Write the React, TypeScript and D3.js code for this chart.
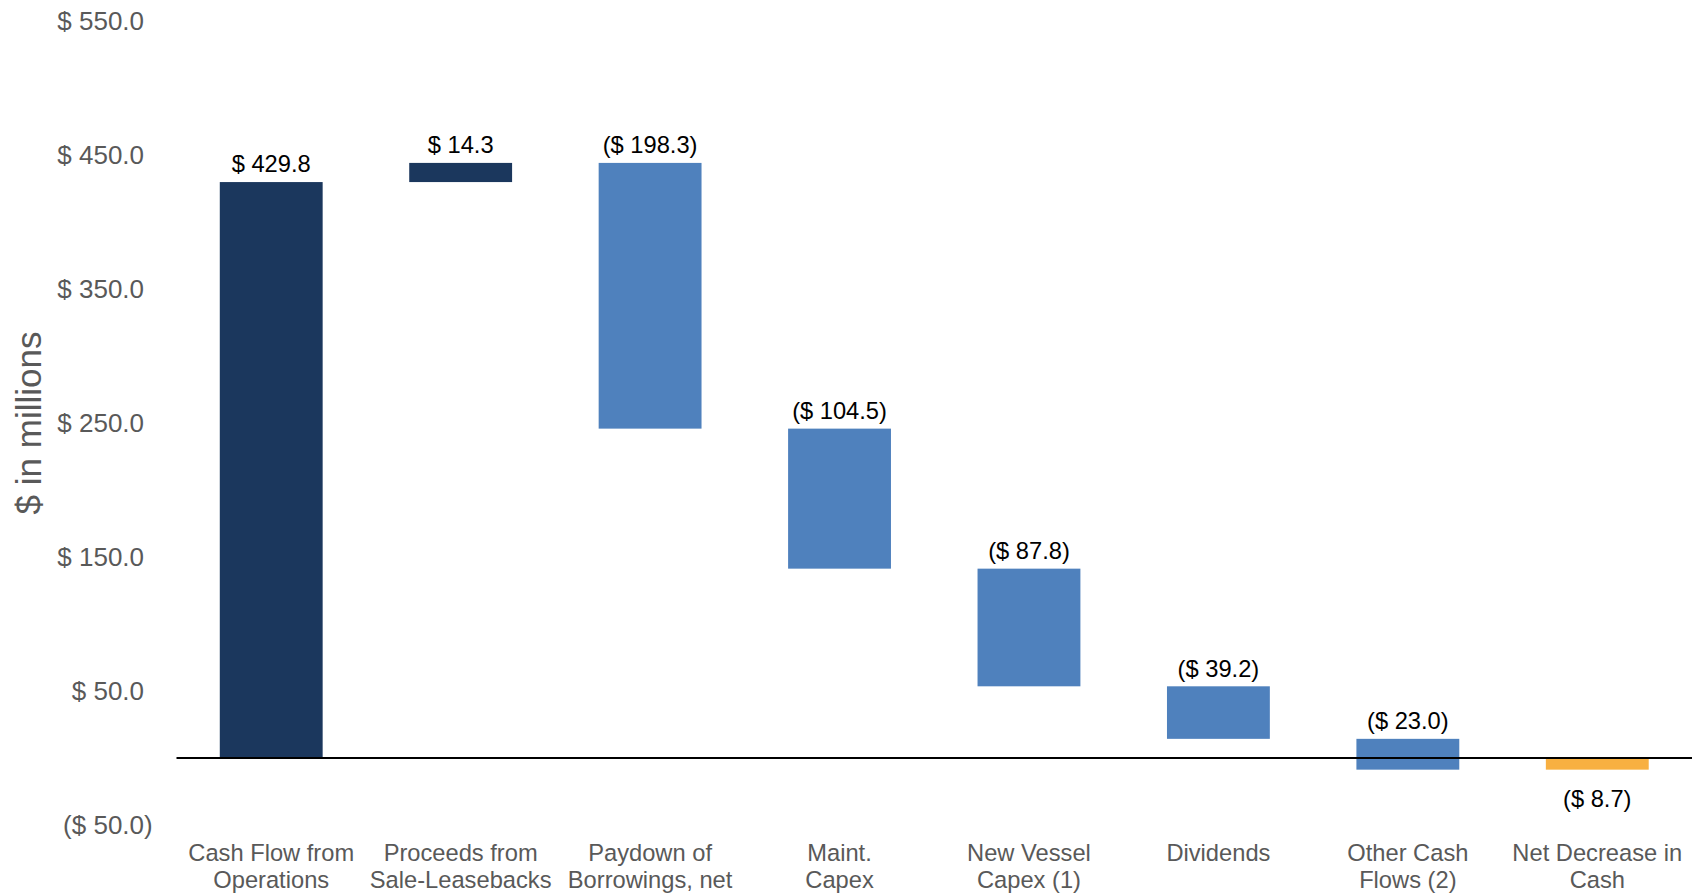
import React, { useEffect } from "react";
import * as d3 from "d3";

const categories: string[][] = [
  ["Cash Flow from", "Operations"],
  ["Proceeds from", "Sale-Leasebacks"],
  ["Paydown of", "Borrowings, net"],
  ["Maint.", "Capex"],
  ["New Vessel", "Capex (1)"],
  ["Dividends"],
  ["Other Cash", "Flows (2)"],
  ["Net Decrease in", "Cash"],
];
const changes: number[] = [429.8, 14.3, -198.3, -104.5, -87.8, -39.2, -23.0, -8.7];
const kinds: string[] = ["inflow", "inflow", "outflow", "outflow", "outflow", "outflow", "outflow", "total"];
const yTicks: number[] = [550, 450, 350, 250, 150, 50, -50];

const W = 1698;
const H = 893;
const colors: Record<string, string> = {
  inflow: "#1b375d",
  outflow: "#4f81bd",
  total: "#f8b041",
};

const fmt = (v: number) => {
  const s = "$ " + d3.format(",.1f")(Math.abs(v));
  return v < 0 ? "(" + s + ")" : s;
};

export default function App() {
  useEffect(() => {
    document.body.style.margin = "0";
  }, []);

  const x = d3
    .scaleBand<number>()
    .domain(d3.range(categories.length))
    .range([176.5, 1692])
    .paddingInner(0.457)
    .paddingOuter(0.2285);
  const y = d3.scaleLinear().domain([-50, 550]).range([825, 21]);

  let running = 0;
  const bars = changes.map((v, i) => {
    let y0: number, y1: number;
    if (kinds[i] === "total") {
      y0 = 0;
      y1 = v;
    } else {
      y0 = running;
      y1 = running + v;
      running = y1;
    }
    return { i, v, lo: Math.min(y0, y1), hi: Math.max(y0, y1), kind: kinds[i] };
  });

  const font = "'Liberation Sans', Arial, sans-serif";
  const parenW = 26 * 0.333;

  return (
    <svg width={W} height={H} style={{ display: "block", background: "#fff" }} fontFamily={font}>
      <text
        transform={`translate(${41},${y(250)}) rotate(-90)`}
        textAnchor="middle"
        fontSize={35}
        fill="#595959"
      >
        $ in millions
      </text>
      {yTicks.map((t) => (
        <text
          key={t}
          x={t < 0 ? 152.7 : 152.7 - parenW}
          y={y(t)}
          dy="0.35em"
          textAnchor="end"
          fontSize={26}
          fill="#595959"
        >
          {fmt(t)}
        </text>
      ))}
      {bars.map((b) => (
        <rect
          key={b.i}
          x={x(b.i)!}
          width={x.bandwidth()}
          y={y(b.hi)}
          height={y(b.lo) - y(b.hi)}
          fill={colors[b.kind]}
        />
      ))}
      <line x1={176.5} x2={1692} y1={y(0)} y2={y(0)} stroke="#000" strokeWidth={2} />
      {bars.map((b) => {
        const cx = x(b.i)! + x.bandwidth() / 2;
        const below = b.kind === "total";
        return (
          <text
            key={b.i}
            x={cx}
            y={below ? y(b.lo) + 29 : y(b.hi) - 18}
            dy="0.35em"
            textAnchor="middle"
            fontSize={23.7}
            fill="#000"
          >
            {fmt(b.v)}
          </text>
        );
      })}
      {categories.map((lines, i) => (
        <text
          key={i}
          x={x(i)! + x.bandwidth() / 2}
          y={853}
          textAnchor="middle"
          fontSize={23.7}
          fill="#595959"
        >
          {lines.map((l, j) => (
            <tspan key={j} x={x(i)! + x.bandwidth() / 2} dy={j === 0 ? "0.35em" : 27}>
              {l}
            </tspan>
          ))}
        </text>
      ))}
    </svg>
  );
}
